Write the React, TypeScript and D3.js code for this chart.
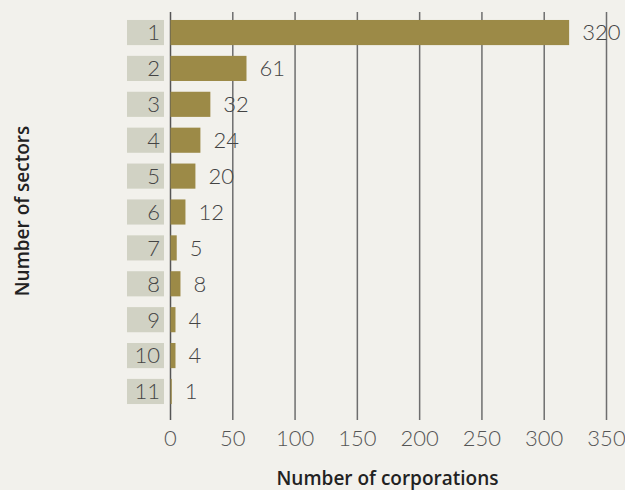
import React from "react";
import * as d3 from "d3";

const sectors = ["1", "2", "3", "4", "5", "6", "7", "8", "9", "10", "11"];
const corporations = [320, 61, 32, 24, 20, 12, 5, 8, 4, 4, 1];
const xTicks = [0, 50, 100, 150, 200, 250, 300, 350];

const W = 625;
const H = 490;
const FONT = "Lato, 'Open Sans', sans-serif";
const TFONT = "'Open Sans', 'Noto Sans', sans-serif";

export default function App() {
  const x = d3.scaleLinear().domain([0, 350]).range([170.5, 606.5]);
  const y = d3
    .scaleBand<string>()
    .domain(sectors)
    .range([11, 413])
    .paddingInner(0.3)
    .paddingOuter(0.25);
  const bh = y.bandwidth();

  return (
    <svg
      width={W}
      height={H}
      style={{ position: "absolute", left: 0, top: 0, display: "block" }}
    >
      <rect x={0} y={0} width={W} height={H} fill="#f2f1ec" />
      {xTicks.map((t) => (
        <line
          key={"g" + t}
          x1={x(t)}
          x2={x(t)}
          y1={12}
          y2={420}
          stroke={t === 0 ? "#555" : "#6e6e6e"}
          strokeWidth={1.5}
        />
      ))}
      {sectors.map((s, i) => {
        const yy = y(s)!;
        const v = corporations[i];
        return (
          <g key={s}>
            <rect x={127} y={yy} width={37} height={bh} fill="#d1d2c4" />
            <text
              x={160}
              y={yy + bh / 2}
              dy="0.36em"
              textAnchor="end"
              fontFamily={FONT}
              fontWeight={300}
              fontSize={22}
              fill="#444"
            >
              {s}
            </text>
            <rect
              x={x(0)}
              y={yy}
              width={x(v) - x(0)}
              height={bh}
              fill="#9c8a47"
            />
            <text
              x={x(v) + 13}
              y={yy + bh / 2}
              dy="0.36em"
              textAnchor="start"
              fontFamily={FONT}
              fontWeight={300}
              fontSize={22}
              fill="#444"
            >
              {v}
            </text>
          </g>
        );
      })}
      {xTicks.map((t) => (
        <text
          key={"t" + t}
          x={x(t)}
          y={438}
          dy="0.36em"
          textAnchor="middle"
          fontFamily={FONT}
          fontWeight={300}
          fontSize={22}
          fill="#555"
        >
          {t}
        </text>
      ))}
      <text
        x={387.5}
        y={485}
        textAnchor="middle"
        fontFamily={TFONT}
        fontWeight={600}
        fontSize={19}
        fill="#222"
      >
        Number of corporations
      </text>
      <text
        transform={`translate(29,211) rotate(-90)`}
        textAnchor="middle"
        fontFamily={TFONT}
        fontWeight={600}
        fontSize={19}
        fill="#222"
      >
        Number of sectors
      </text>
    </svg>
  );
}
